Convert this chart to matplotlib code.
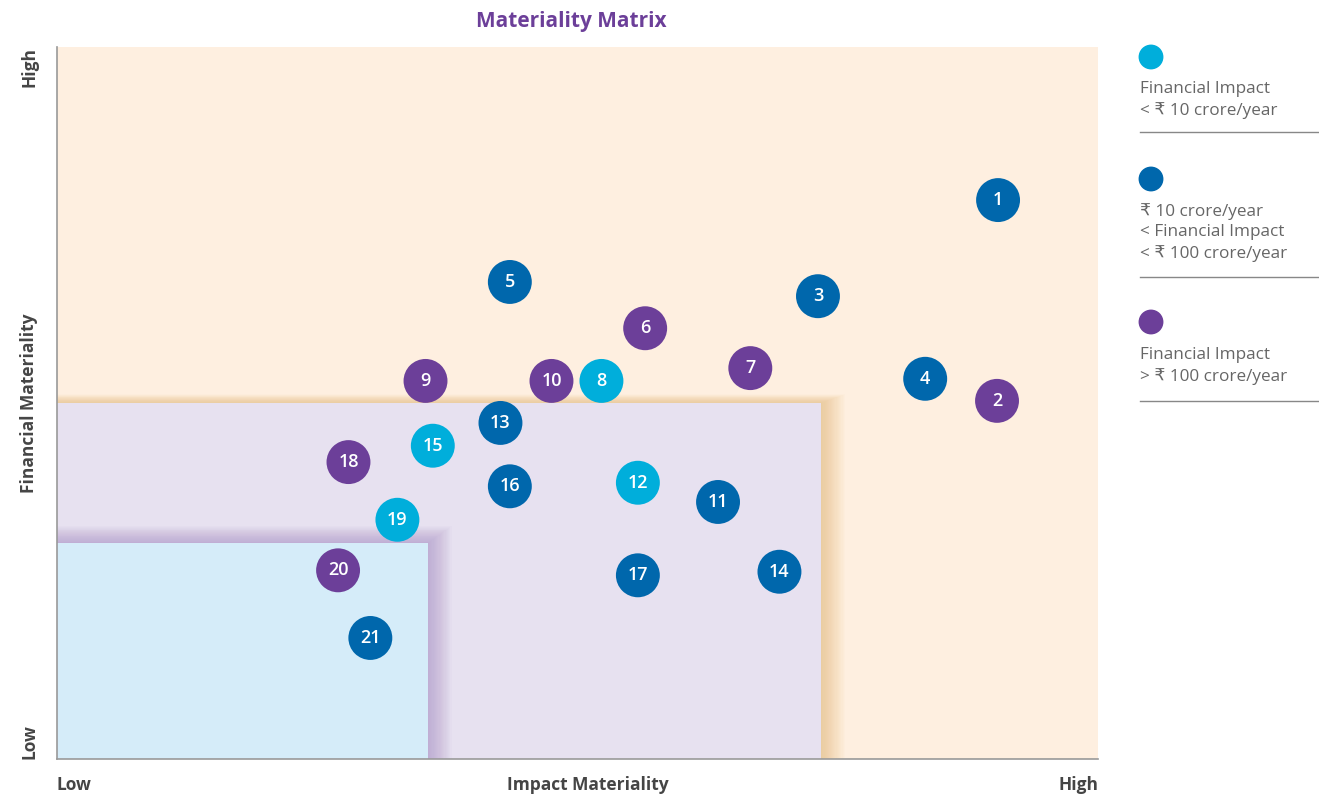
import matplotlib.pyplot as plt
from matplotlib.patches import Rectangle

plt.rcParams['font.family'] = ['Open Sans', 'DejaVu Sans']

# ── Data ──────────────────────────────────────────────────────────────────────
labels = [str(i) for i in range(1, 22)]
impact = [90.4, 90.3, 73.1, 83.4, 43.5, 56.5, 66.6, 52.3, 35.4, 47.5, 63.5,
          55.8, 42.6, 69.4, 36.1, 43.5, 55.8, 28.0, 32.7, 27.0, 30.1]
financial = [78.5, 50.3, 65.0, 53.4, 67.0, 60.5, 54.9, 53.1, 53.1, 53.1, 36.1,
             38.8, 47.2, 26.3, 44.0, 38.3, 25.8, 41.7, 33.6, 26.5, 17.0]
category = ['mid', 'high', 'mid', 'mid', 'mid', 'high', 'high', 'low', 'high', 'high', 'mid',
            'low', 'mid', 'mid', 'low', 'mid', 'mid', 'high', 'low', 'high', 'mid']

cat_colors = {'low': '#00AEDB', 'mid': '#0067AC', 'high': '#6C3F99'}
legend_cats = ['low', 'mid', 'high']
legend_texts = ['Financial Impact\n< ₹ 10 crore/year',
                '₹ 10 crore/year\n< Financial Impact\n< ₹ 100 crore/year',
                'Financial Impact\n> ₹ 100 crore/year']

# zone boundaries (impact, financial)
zone_mid = (73.4, 50.0)
zone_low = (35.6, 30.3)

fig = plt.figure(figsize=(13.19, 7.97), dpi=100)
ax = fig.add_axes([57 / 1319, 38 / 797, 1041 / 1319, 712 / 797])
ax.set_xlim(0, 100)
ax.set_ylim(0, 100)
ax.set_facecolor('#FEEFE0')


def shadowed_rect(ax, w, h, face, shadow, dx, dy, z, n=20, alpha=0.035):
    # soft drop shadow on right/top edges, built from stacked translucent rects
    for i in range(n, 0, -1):
        ax.add_patch(Rectangle((0, 0), w + dx * i / n, h + dy * i / n,
                               facecolor=shadow, edgecolor='none',
                               alpha=alpha, zorder=z))
    ax.add_patch(Rectangle((0, 0), w, h, facecolor=face, edgecolor='none', zorder=z + 0.5))


shadowed_rect(ax, *zone_mid, '#E7E1F0', '#E9B873', 2.3, 1.2, z=1)
shadowed_rect(ax, *zone_low, '#D5ECF9', '#A88BC4', 2.3, 2.4, z=2)

for x, y, lab, c in zip(impact, financial, labels, category):
    ax.scatter(x, y, s=1000, color=cat_colors[c], edgecolor='none', zorder=5)
    ax.text(x, y, lab, color='white', ha='center', va='center',
            fontsize=13, fontweight='semibold', zorder=6)

for s in ['top', 'right']:
    ax.spines[s].set_visible(False)
for s in ['left', 'bottom']:
    ax.spines[s].set_color('#999999')
    ax.spines[s].set_linewidth(1.2)
    ax.spines[s].set_zorder(7)
ax.set_xticks([])
ax.set_yticks([])

label_color = '#454545'
fig.text(571 / 1319, 1 - 22 / 797, 'Materiality Matrix', ha='center', va='center',
         fontsize=15, fontweight='bold', color='#6C3F99')
fig.text(57 / 1319, 1 - 785 / 797, 'Low', ha='left', va='center',
         fontsize=12.5, fontweight='bold', color=label_color)
fig.text(588 / 1319, 1 - 785 / 797, 'Impact Materiality', ha='center', va='center',
         fontsize=12.5, fontweight='bold', color=label_color)
fig.text(1098 / 1319, 1 - 785 / 797, 'High', ha='right', va='center',
         fontsize=12.5, fontweight='bold', color=label_color)
fig.text(29 / 1319, 1 - 47 / 797, 'High', ha='center', va='top', rotation=90,
         fontsize=12.5, fontweight='bold', color=label_color)
fig.text(29 / 1319, 1 - 403 / 797, 'Financial Materiality', ha='center', va='center',
         rotation=90, fontsize=12.5, fontweight='bold', color=label_color)
fig.text(29 / 1319, 1 - 759 / 797, 'Low', ha='center', va='bottom', rotation=90,
         fontsize=12.5, fontweight='bold', color=label_color)

# ── Legend ────────────────────────────────────────────────────────────────────
lax = fig.add_axes([1130 / 1319, 0, 189 / 1319, 1])
lax.set_xlim(1130, 1319)
lax.set_ylim(797, 0)
lax.axis('off')
dot_y = [57, 179, 322]
text_y = [81, 203, 347]
sep_y = [132, 277, 401]
for cat, txt, dy, ty, sy in zip(legend_cats, legend_texts, dot_y, text_y, sep_y):
    lax.scatter(1151, dy, s=320, color=cat_colors[cat], edgecolor='none')
    lax.text(1140, ty, txt, ha='left', va='top', fontsize=12.3,
             color='#666666', linespacing=1.38)
    lax.plot([1140, 1319], [sy, sy], color='#888888', linewidth=1)

fig.savefig('out.png', dpi=100)
